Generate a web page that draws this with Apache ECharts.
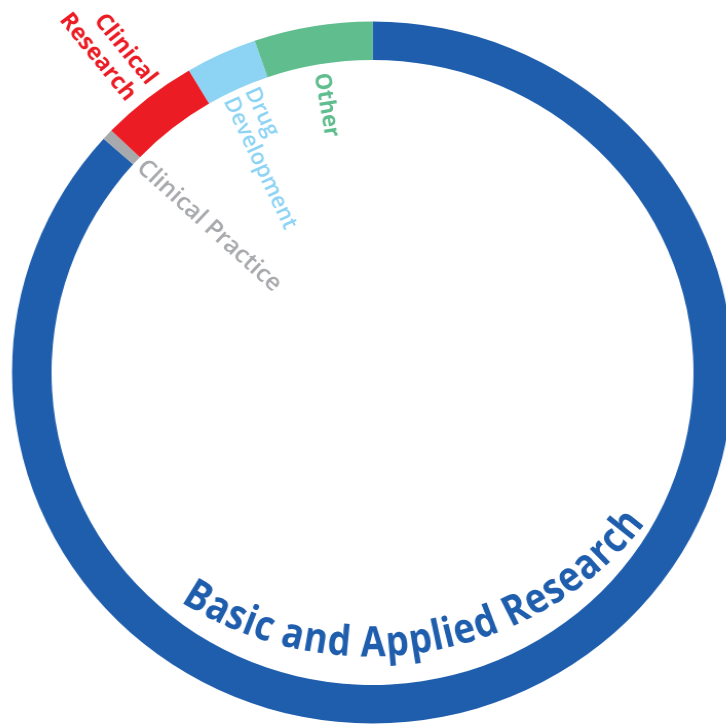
<!DOCTYPE html>
<html>
<head>
<meta charset="utf-8">
<script src="https://cdn.jsdelivr.net/npm/echarts@6/dist/echarts.min.js"></script>
<style>
html,body{margin:0;padding:0;background:#fff;overflow:hidden;}
#c{width:726px;height:724px;transform:scaleX(1.027);transform-origin:372.5px 0;}
</style>
</head>
<body>
<div id="c"></div>
<script>
// ---- data ----
const categories = ['Basic and Applied Research', 'Clinical Practice', 'Clinical Research', 'Drug Development', 'Other'];
const values = [86.6, 0.5, 4.4, 3.2, 5.3];
const labelLines = [['Basic and Applied Research'], ['Clinical Practice'], ['Clinical', 'Research'], ['Drug', 'Development'], ['Other']];

// ---- style ----
const colors = ['#1F5EAD', '#A7A9AC', '#EC1C24', '#8CD3F4', '#5FBD8E'];
const CX = 372.5, CY = 372.5, R_IN = 312.5, R_OUT = 351;
const FONT_FAMILY = '"Open Sans", "Noto Sans", sans-serif';

const chart = echarts.init(document.getElementById('c'), null, {renderer: 'canvas'});

const total = values.reduce((a, b) => a + b, 0);
const graphics = [];
const deg = Math.PI / 180;

// radial labels for small segments
const labelCfg = {
  1: {size: 24, weight: 600, lh: 24, r0: R_IN - 5, align: 'left'},
  2: {size: 23, weight: 700, lh: 26, r0: R_OUT + 10, align: 'right'},
  3: {size: 22, weight: 600, lh: 23, r0: R_IN - 5, align: 'left'},
  4: {size: 22, weight: 700, lh: 22, r0: R_IN - 9, align: 'left'}
};
let cum = 0;
values.forEach((v, i) => {
  const a0 = cum / total * 360;
  cum += v;
  const a1 = cum / total * 360;
  const midCW = (a0 + a1) / 2;
  const alpha = 360 - midCW; // counter-clockwise from 12 o'clock
  const cfg = labelCfg[i];
  if (!cfg) return;
  const x = CX - cfg.r0 * Math.sin(alpha * deg);
  const y = CY - cfg.r0 * Math.cos(alpha * deg);
  graphics.push({
    type: 'text', x: x, y: y, rotation: (alpha - 90) * deg, silent: true,
    style: {
      text: labelLines[i].join('\n'), fill: colors[i],
      font: cfg.weight + ' ' + cfg.size + 'px ' + FONT_FAMILY,
      lineHeight: cfg.lh,
      align: cfg.align, verticalAlign: 'middle'
    }
  });
});

// curved label along the bottom of the ring (flatter arc than the ring)
(function () {
  const text = labelLines[0][0];
  const size = 42, weight = 700;
  const font = weight + ' ' + size + 'px ' + FONT_FAMILY;
  const ctx = document.createElement('canvas').getContext('2d');
  ctx.font = font;
  const TCX = CX - 3, TCY = 319;  // centre of the text arc
  const rhoC = 322;               // radius through glyph middles
  const rAnchor = 338 + 0.2 * size; // anchor radius for 'bottom' alignment
  const phiFirst = -31.0 * deg, phiLast = 50.7 * deg;
  const chars = Array.from(text);
  const widths = chars.map(ch => ctx.measureText(ch).width);
  const centers = [];
  let s = 0;
  widths.forEach(w => { centers.push(s + w / 2); s += w; });
  const span = centers[centers.length - 1] - centers[0];
  const k = (phiLast - phiFirst) * rhoC / span;
  chars.forEach((ch, i) => {
    if (ch === ' ') return;
    const phi = phiFirst + (centers[i] - centers[0]) * k / rhoC;
    graphics.push({
      type: 'text', silent: true,
      x: TCX + rAnchor * Math.sin(phi), y: TCY + rAnchor * Math.cos(phi),
      rotation: phi, scaleX: k,
      style: {text: ch, fill: colors[0], font: font, align: 'center', verticalAlign: 'bottom'}
    });
  });
})();

chart.setOption({
  animation: false,
  color: colors,
  series: [{
    type: 'pie',
    silent: true,
    startAngle: 90,
    clockwise: true,
    center: [CX, CY],
    radius: [R_IN, R_OUT],
    label: {show: false},
    labelLine: {show: false},
    emphasis: {disabled: true},
    itemStyle: {borderWidth: 0},
    data: categories.map((c, i) => ({name: c, value: values[i]}))
  }],
  graphic: {elements: graphics}
});
</script>
</body>
</html>
